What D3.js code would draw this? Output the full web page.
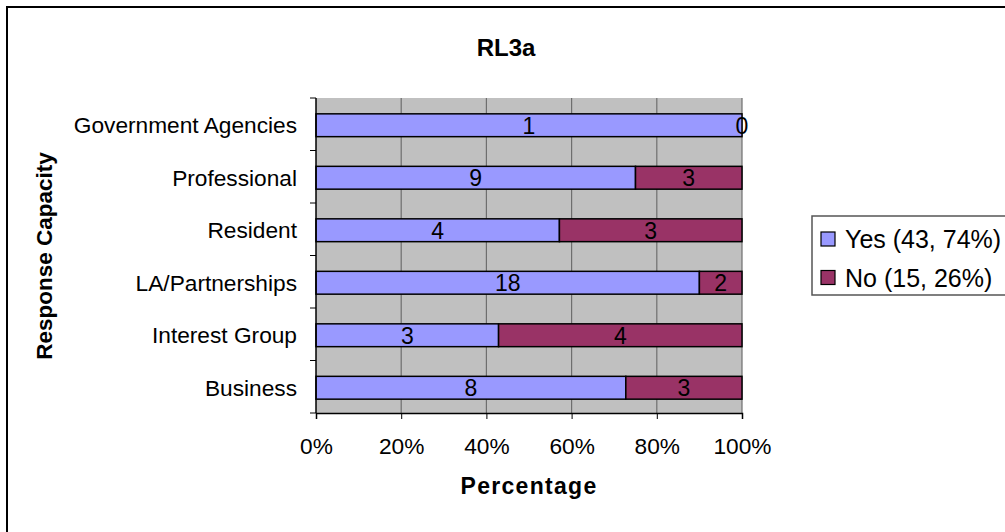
<!DOCTYPE html>
<html>
<head>
<meta charset="utf-8">
<script src="https://cdn.jsdelivr.net/npm/d3@7"></script>
<style>
  html, body { margin: 0; padding: 0; background: #fff; }
  svg { display: block; font-family: Arial, "Liberation Sans", sans-serif; }
</style>
</head>
<body>
<svg id="chart" width="1005" height="532"></svg>
<script>
// Response capacities, listed top to bottom
const categories = ["Government Agencies", "Professional", "Resident", "LA/Partnerships", "Interest Group", "Business"];
const yesCounts = [1, 9, 4, 18, 3, 8];
const noCounts  = [0, 3, 3, 2, 4, 3];
const seriesNames = ["Yes (43, 74%)", "No (15, 26%)"];
const seriesColors = ["#9999FF", "#993366"];
const xTicks = [0, 0.2, 0.4, 0.6, 0.8, 1];

const svg = d3.select("#chart");

// outer frame
svg.append("rect")
  .attr("x", 7).attr("y", 7).attr("width", 1010).attr("height", 540)
  .attr("fill", "#fff").attr("stroke", "#000").attr("stroke-width", 2);

const plot = { left: 316, right: 742, top: 98, bottom: 413 };

const x = d3.scaleLinear().domain([0, 1]).range([plot.left, plot.right]);
const y = d3.scaleBand().domain(categories).range([plot.top, plot.bottom])
  .paddingInner(0).paddingOuter(0);
const barH = y.bandwidth() / 2.3;

// plot background
svg.append("rect")
  .attr("x", plot.left).attr("y", plot.top)
  .attr("width", plot.right - plot.left).attr("height", plot.bottom - plot.top)
  .attr("fill", "#C0C0C0");

// vertical gridlines
svg.append("g").selectAll("line").data(xTicks.slice(1)).join("line")
  .attr("x1", d => x(d)).attr("x2", d => x(d))
  .attr("y1", plot.top).attr("y2", plot.bottom)
  .attr("stroke", "#6e6e6e").attr("stroke-width", 1.2);

// stacked rows
const rows = categories.map((c, i) => {
  const total = yesCounts[i] + noCounts[i];
  return { cat: c, segs: [
    { s: 0, v: yesCounts[i], x0: 0, x1: yesCounts[i] / total },
    { s: 1, v: noCounts[i], x0: yesCounts[i] / total, x1: 1 }
  ] };
});

const rowG = svg.append("g").selectAll("g").data(rows).join("g")
  .attr("transform", d => `translate(0,${y(d.cat) + y.bandwidth() / 2 + 1})`);

rowG.selectAll("rect").data(d => d.segs.filter(s => s.v > 0)).join("rect")
  .attr("x", d => x(d.x0)).attr("width", d => x(d.x1) - x(d.x0))
  .attr("y", -barH / 2).attr("height", barH)
  .attr("fill", d => seriesColors[d.s])
  .attr("stroke", "#000").attr("stroke-width", 1.5);

rowG.selectAll("text").data(d => d.segs).join("text")
  .attr("x", d => (x(d.x0) + x(d.x1)) / 2)
  .attr("y", 0).attr("dy", "0.36em")
  .attr("text-anchor", "middle")
  .attr("font-size", 23).attr("fill", "#000")
  .text(d => d.v);

// x axis
const xAxis = svg.append("g").attr("transform", `translate(0,${plot.bottom})`)
  .call(d3.axisBottom(x).tickValues(xTicks).tickFormat(d3.format(".0%"))
    .tickSize(6).tickPadding(19));
xAxis.select(".domain").attr("stroke", "#000").attr("stroke-width", 1.5);
xAxis.selectAll(".tick line").attr("stroke", "#000");
xAxis.selectAll(".tick text").attr("font-size", 22.7).attr("font-family", "Arial, 'Liberation Sans', sans-serif").attr("fill", "#000");

// y axis: ticks at band boundaries
const bounds = categories.map(c => y(c)).concat([plot.bottom]);
svg.append("g").selectAll("line").data(bounds).join("line")
  .attr("x1", plot.left - 6).attr("x2", plot.left)
  .attr("y1", d => d).attr("y2", d => d)
  .attr("stroke", "#000");
svg.append("line")
  .attr("x1", plot.left).attr("x2", plot.left)
  .attr("y1", plot.top).attr("y2", plot.bottom)
  .attr("stroke", "#000").attr("stroke-width", 1.5);

svg.append("g").selectAll("text").data(categories).join("text")
  .attr("x", 297).attr("y", d => y(d) + y.bandwidth() / 2 + 1).attr("dy", "0.36em")
  .attr("text-anchor", "end").attr("font-size", 22.7).attr("fill", "#000")
  .text(d => d);

// titles
svg.append("text").attr("x", 506).attr("y", 56)
  .attr("text-anchor", "middle").attr("font-size", 24).attr("font-weight", "bold")
  .text("RL3a");
svg.append("text").attr("x", 529).attr("y", 494)
  .attr("text-anchor", "middle").attr("font-size", 23).attr("font-weight", "bold")
  .attr("letter-spacing", 1.3)
  .text("Percentage");
svg.append("text")
  .attr("transform", "translate(52,256) rotate(-90)")
  .attr("text-anchor", "middle").attr("font-size", 22.5).attr("font-weight", "bold")
  .text("Response Capacity");

// legend
svg.append("rect").attr("x", 812).attr("y", 216).attr("width", 210).attr("height", 79)
  .attr("fill", "#fff").attr("stroke", "#555").attr("stroke-width", 1.5);
const leg = svg.append("g").selectAll("g").data(seriesNames).join("g")
  .attr("transform", (d, i) => `translate(821,${239 + i * 38.5})`);
leg.append("rect").attr("x", 0).attr("y", -7).attr("width", 14).attr("height", 14)
  .attr("fill", (d, i) => seriesColors[i]).attr("stroke", "#000").attr("stroke-width", 1.2);
leg.append("text").attr("x", 24).attr("y", 0).attr("dy", "0.36em")
  .attr("font-size", 25).attr("fill", "#000").text(d => d);
</script>
</body>
</html>
